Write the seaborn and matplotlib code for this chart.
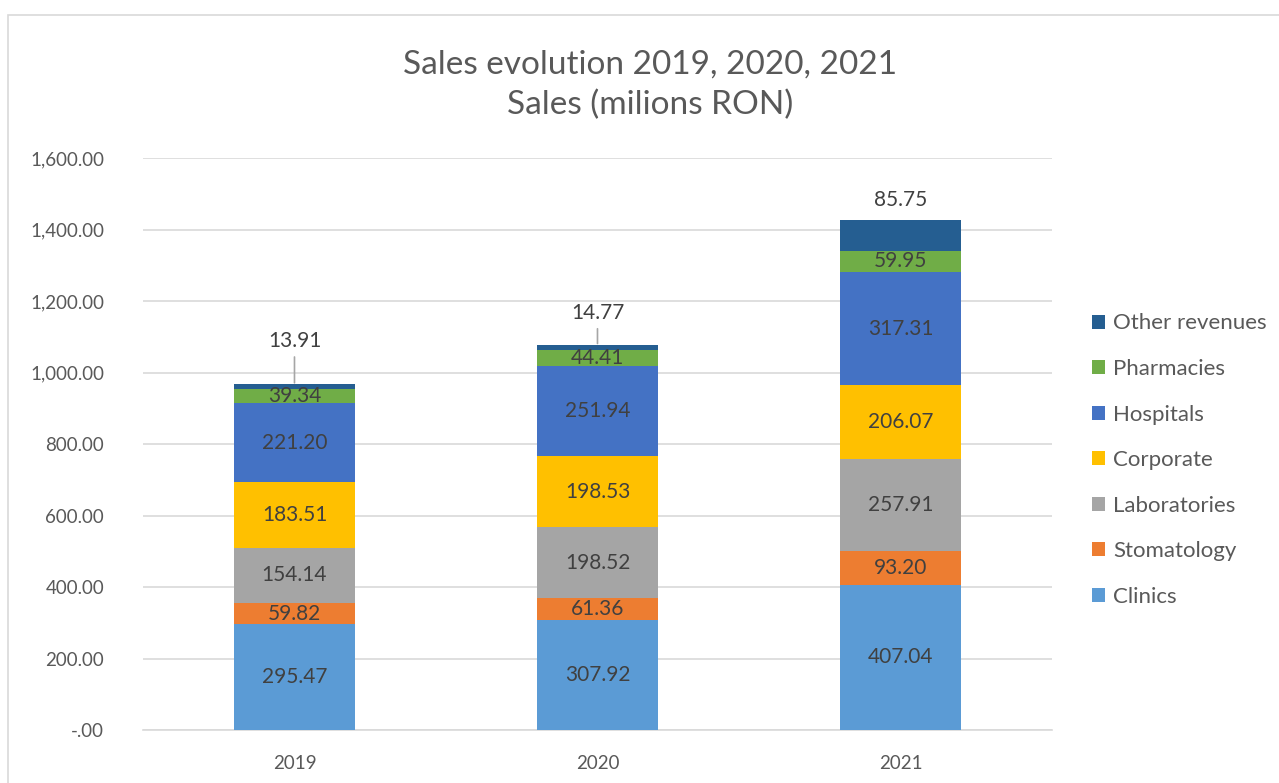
import seaborn as sns
import matplotlib.pyplot as plt
import matplotlib.ticker as mticker
from matplotlib.patches import Rectangle
import numpy as np

years = ['2019', '2020', '2021']
series = ['Clinics', 'Stomatology', 'Laboratories', 'Corporate', 'Hospitals', 'Pharmacies', 'Other revenues']
clinics = [295.47, 307.92, 407.04]
stomatology = [59.82, 61.36, 93.20]
laboratories = [154.14, 198.52, 257.91]
corporate = [183.51, 198.53, 206.07]
hospitals = [221.20, 251.94, 317.31]
pharmacies = [39.34, 44.41, 59.95]
other = [13.91, 14.77, 85.75]
colors = ['#5B9BD5', '#ED7D31', '#A5A5A5', '#FFC000', '#4472C4', '#70AD47', '#255E91']

sns.set_style('white')
plt.rcParams['font.family'] = ['Lato', 'DejaVu Sans']
txt = '#404040'

fig = plt.figure(figsize=(12.79, 7.83), dpi=100)
ax = fig.add_axes([0.1118, 0.0677, 0.7107, 0.7303])

values = [clinics, stomatology, laboratories, corporate, hospitals, pharmacies, other]
bottom = np.zeros(3)
for name, vals, col in zip(series, values, colors):
    vals = np.array(vals)
    sns.barplot(x=years, y=vals, bottom=bottom, color=col, width=0.4, label=name,
                ax=ax, saturation=1, edgecolor='none', zorder=3)
    if name != 'Other revenues':
        for i, v in enumerate(vals):
            ax.text(i, bottom[i] + v / 2, f'{v:.2f}', ha='center', va='center',
                    fontsize=15, color=txt, zorder=5)
    bottom = bottom + vals

# other revenues labels above the bars
offsets = [24, 16, 7]
for i, v in enumerate(other):
    top = bottom[i]
    arrow = None
    if i < 2:
        arrow = dict(arrowstyle='-', color='#A6A6A6', lw=1.2, shrinkA=2, shrinkB=1)
    ax.annotate(f'{v:.2f}', xy=(i, top), xytext=(0, offsets[i]), textcoords='offset points',
                ha='center', va='bottom', fontsize=15, color=txt, arrowprops=arrow)

ax.set_ylim(0, 1600)
ax.set_xlim(-0.5, 2.5)
ax.yaxis.set_major_locator(mticker.MultipleLocator(200))
ax.yaxis.set_major_formatter(mticker.FuncFormatter(lambda v, p: '-.00' if v == 0 else f'{v:,.2f}'))
ax.grid(axis='y', color='#D9D9D9', lw=1.2, zorder=0)
for s in ['top', 'right', 'left']:
    ax.spines[s].set_visible(False)
ax.spines['bottom'].set_color('#D9D9D9')
ax.spines['bottom'].set_linewidth(1.2)
ax.tick_params(axis='both', length=0, labelsize=13.5, colors='#595959', pad=18)
ax.tick_params(axis='y', pad=28)
ax.set_xlabel('')
ax.set_ylabel('')

fig.suptitle('Sales evolution 2019, 2020, 2021\nSales (milions RON)', x=0.508, y=0.937,
             fontsize=24, color='#595959', linespacing=1.43)

handles, labels = ax.get_legend_handles_labels()
leg = ax.legend(handles[::-1], labels[::-1], loc='center left', bbox_to_anchor=(1.022, 0.472),
                frameon=False, fontsize=16, labelcolor='#595959', handlelength=0.6,
                handleheight=0.6, handletextpad=0.35, labelspacing=1.15)

fig.patches.append(Rectangle((8 / 1279, -0.05), 1.1, 1 - 15 / 783 + 0.05, transform=fig.transFigure,
                             fill=False, edgecolor='#D9D9D9', lw=1.2))

fig.savefig('out.png', dpi=100)
